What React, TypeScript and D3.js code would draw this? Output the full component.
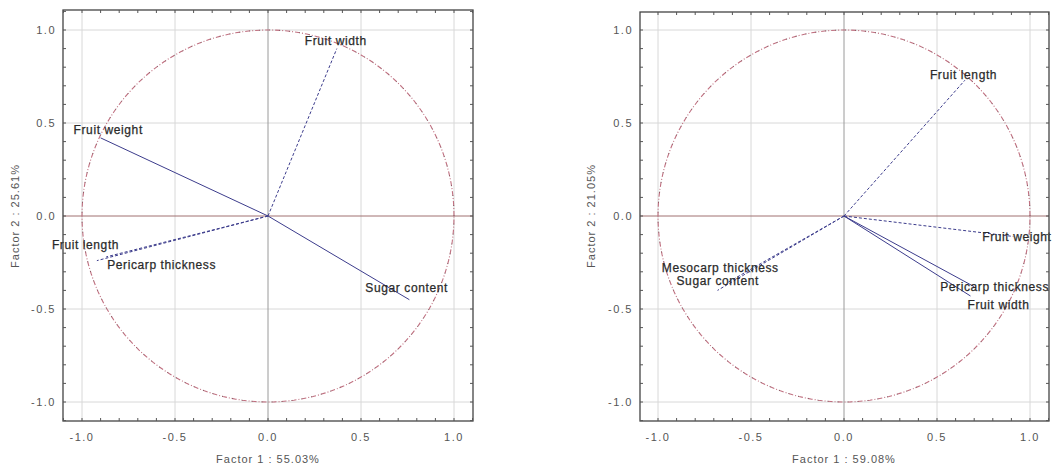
import React from "react";
import * as d3 from "d3";

// ---- data ----
const ticks = [-1.0, -0.5, 0.0, 0.5, 1.0];
const tickLabels = ["-1.0", "-0.5", "0.0", "0.5", "1.0"];

const leftNames = ["Fruit width", "Fruit weight", "Fruit length", "Pericarp thickness", "Sugar content"];
const leftF1 = [0.37, -0.9, -0.92, -0.87, 0.76];
const leftF2 = [0.9, 0.42, -0.24, -0.22, -0.45];
const leftDashed = [true, false, true, true, false];
const leftXTitle = "Factor 1 : 55.03%";
const leftYTitle = "Factor 2 : 25.61%";

const rightNames = ["Fruit length", "Fruit weight", "Pericarp thickness", "Fruit width", "Mesocarp thickness", "Sugar content"];
const rightF1 = [0.65, 0.91, 0.7, 0.68, -0.63, -0.68];
const rightF2 = [0.73, -0.11, -0.38, -0.43, -0.36, -0.4];
const rightDashed = [true, true, false, false, true, true];
const rightXTitle = "Factor 1 : 59.08%";
const rightYTitle = "Factor 2 : 21.05%";

// label offsets (px) relative to vector tip
const leftLabelOffsets = [[-32, -4], [-27, -4], [-45, -12], [1, 12], [-44, -8]];
const rightLabelOffsets = [[-35, -1], [-31, 5], [-34, 4], [-3, 13], [-65, -11], [-41, -5]];

const FONT = "'Liberation Sans', Arial, sans-serif";

type PanelProps = {
  left: number; right: number; top: number; bottom: number;
  x0: number; y0: number; unit: number;
  names: string[]; f1: number[]; f2: number[]; dashed: boolean[];
  offsets: number[][]; xTitle: string; yTitle: string; yTitleX: number;
};

function Panel(p: PanelProps) {
  const x = d3.scaleLinear().domain([-1, 1]).range([p.x0 - p.unit, p.x0 + p.unit]);
  const y = d3.scaleLinear().domain([-1, 1]).range([p.y0 + p.unit, p.y0 - p.unit]);
  const minor = d3.range(-11, 12).map((v) => v / 10).filter((v) => x(v) > p.left && x(v) < p.right);
  const minorY = d3.range(-11, 12).map((v) => v / 10).filter((v) => y(v) > p.top && y(v) < p.bottom);
  const circle = d3.range(0, 361, 2).map((a) => [Math.cos((a * Math.PI) / 180), Math.sin((a * Math.PI) / 180)]);
  const circlePath = d3.line<number[]>().x((d) => x(d[0])).y((d) => y(d[1]))(circle) || "";
  return (
    <g>
      {/* grid */}
      {ticks.map((t) => (
        <g key={"g" + t}>
          {t !== 0 && <line x1={x(t)} x2={x(t)} y1={p.top} y2={p.bottom} stroke="#d8d8d8" strokeWidth={1} />}
          {t !== 0 && <line x1={p.left} x2={p.right} y1={y(t)} y2={y(t)} stroke="#d8d8d8" strokeWidth={1} />}
        </g>
      ))}
      {/* zero axes */}
      <line x1={p.left} x2={p.right} y1={y(0)} y2={y(0)} stroke="#a07070" strokeWidth={1} />
      <line x1={x(0)} x2={x(0)} y1={p.top} y2={p.bottom} stroke="#9a9a9a" strokeWidth={1} />
      {/* unit circle */}
      <path d={circlePath} fill="none" stroke="#c07080" strokeWidth={1.1} strokeDasharray="5,2,1,2" />
      <path d={circlePath} fill="none" stroke="#404040" strokeWidth={0.8} strokeDasharray="1,9" strokeOpacity={0.6} />
      {/* vectors */}
      {p.names.map((n, i) => (
        <line key={"v" + n} x1={x(0)} y1={y(0)} x2={x(p.f1[i])} y2={y(p.f2[i])}
          stroke="#3c3c8c" strokeWidth={1} strokeDasharray={p.dashed[i] ? "3,2" : undefined} />
      ))}
      {p.names.map((n, i) => (
        <text key={"l" + n} x={x(p.f1[i]) + p.offsets[i][0]} y={y(p.f2[i]) + p.offsets[i][1]}
          fontSize={12} letterSpacing={0.6} fontFamily={FONT} fill="#2a2a2a" stroke="#2a2a2a" strokeWidth={0.25}>{n}</text>
      ))}
      {/* frame */}
      <rect x={p.left} y={p.top} width={p.right - p.left} height={p.bottom - p.top} fill="none" stroke="#444" strokeWidth={1.3} />
      {minor.map((v) => (
        <g key={"mx" + v}>
          <line x1={x(v)} x2={x(v)} y1={p.bottom} y2={p.bottom - 3} stroke="#555" />
          <line x1={x(v)} x2={x(v)} y1={p.top} y2={p.top + 3} stroke="#555" />
        </g>
      ))}
      {minorY.map((v) => (
        <g key={"my" + v}>
          <line x1={p.left} x2={p.left + 3} y1={y(v)} y2={y(v)} stroke="#555" />
          <line x1={p.right} x2={p.right - 3} y1={y(v)} y2={y(v)} stroke="#555" />
        </g>
      ))}
      {ticks.map((t, i) => (
        <g key={"t" + t}>
          <text x={x(t)} y={p.bottom + 20} textAnchor="middle" fontSize={11} letterSpacing={1.5} fontFamily={FONT} fill="#555">{tickLabels[i]}</text>
          <text x={p.left - 7} y={y(t) + 4} textAnchor="end" fontSize={11} letterSpacing={1.5} fontFamily={FONT} fill="#555">{tickLabels[i]}</text>
        </g>
      ))}
      <text x={x(0)} y={p.bottom + 42} textAnchor="middle" fontSize={11} letterSpacing={1} fontFamily={FONT} fill="#555">{p.xTitle}</text>
      <text transform={`translate(${p.yTitleX},${y(0)}) rotate(-90)`} textAnchor="middle" fontSize={11} letterSpacing={1} fontFamily={FONT} fill="#555">{p.yTitle}</text>
    </g>
  );
}

export default function App() {
  return (
    <svg width={1053} height={470} style={{ position: "absolute", left: 0, top: 0, background: "#fff" }}>
      <rect width={1053} height={470} fill="#fff" />
      <Panel left={63} right={473} top={10} bottom={421} x0={268} y0={216} unit={186}
        names={leftNames} f1={leftF1} f2={leftF2} dashed={leftDashed} offsets={leftLabelOffsets}
        xTitle={leftXTitle} yTitle={leftYTitle} yTitleX={19} />
      <Panel left={640} right={1049} top={12} bottom={421} x0={844} y0={216} unit={186}
        names={rightNames} f1={rightF1} f2={rightF2} dashed={rightDashed} offsets={rightLabelOffsets}
        xTitle={rightXTitle} yTitle={rightYTitle} yTitleX={595} />
    </svg>
  );
}
